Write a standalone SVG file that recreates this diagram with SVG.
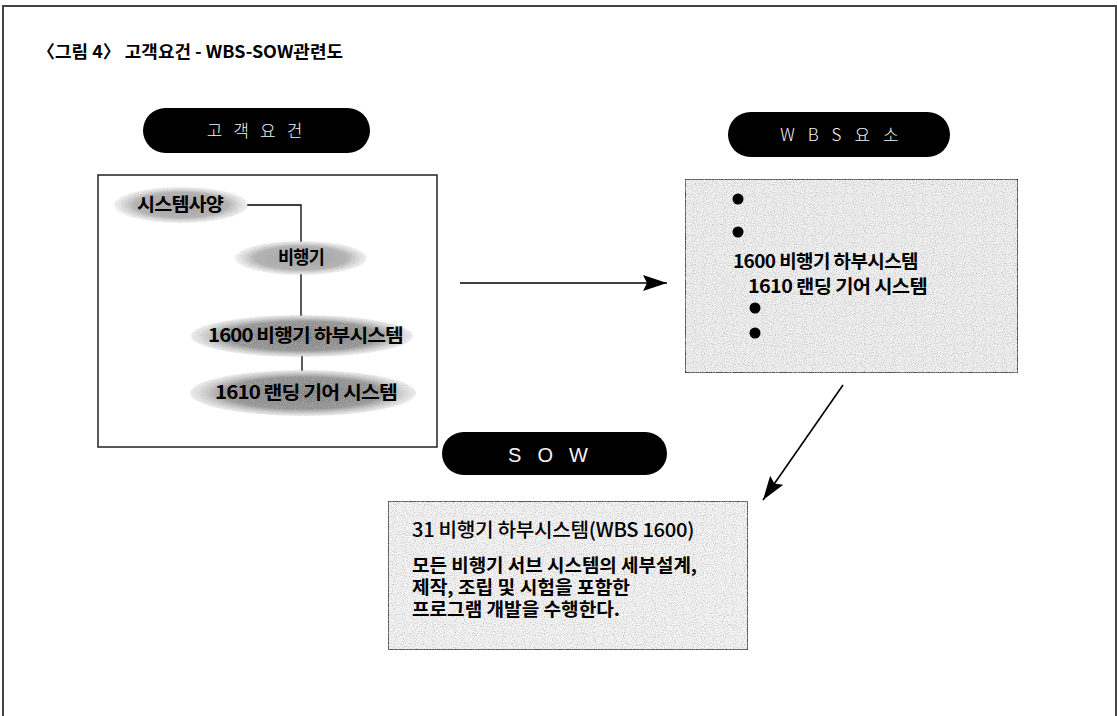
<svg xmlns="http://www.w3.org/2000/svg" width="1117" height="716" viewBox="0 0 1117 716">
<style>
.frame{fill:none;stroke:#444;stroke-width:2}
.pill{fill:#000}
.pilltxt{font-family:"Noto Sans CJK KR",sans-serif;font-size:17px;font-weight:300;fill:#f4f4f4;text-anchor:middle}
.pilltxt2{font-family:"Liberation Sans","Noto Sans CJK KR",sans-serif;font-size:20px;fill:#f4f4f4;text-anchor:middle}
.box{stroke:#222;stroke-width:1.5}
.etxt{font-family:"Noto Sans CJK KR",sans-serif;font-size:18.5px;font-weight:bold;fill:#000;letter-spacing:-0.8px}
.btxt{font-family:"Noto Sans CJK KR",sans-serif;font-size:18.5px;font-weight:bold;fill:#000;letter-spacing:-0.6px}
.stxt{font-family:"Noto Sans CJK KR",sans-serif;font-size:18px;font-weight:bold;fill:#000}
.ntxt{font-family:"Noto Sans CJK KR",sans-serif;font-size:19.5px;font-weight:500;fill:#000;letter-spacing:-0.3px}
.title{font-family:"Noto Sans CJK KR",sans-serif;font-size:17.5px;font-weight:bold;fill:#000}
.conn{fill:none;stroke:#000;stroke-width:1.3}
.arr{fill:none;stroke:#000;stroke-width:1.6}
</style>
<defs>
<radialGradient id="gLight" cx="50%" cy="50%" r="50%">
<stop offset="0" stop-color="#a0a0a0"/>
<stop offset="0.7" stop-color="#b4b4b4"/>
<stop offset="1" stop-color="#d8d8d8" stop-opacity="0.3"/>
</radialGradient>
<radialGradient id="gDark" cx="50%" cy="50%" r="50%">
<stop offset="0" stop-color="#808080"/>
<stop offset="0.7" stop-color="#959595"/>
<stop offset="1" stop-color="#c8c8c8" stop-opacity="0.3"/>
</radialGradient>
<filter id="grain" x="0" y="0" width="100%" height="100%">
<feTurbulence type="fractalNoise" baseFrequency="0.9" numOctaves="1" seed="3" result="n"/>
<feColorMatrix in="n" type="matrix" values="0 0 0 0 0.45  0 0 0 0 0.45  0 0 0 0 0.45  0 0 0 -2.4 1.3" result="g"/>
<feComposite in="g" in2="SourceGraphic" operator="in" result="gi"/>
<feMerge><feMergeNode in="SourceGraphic"/><feMergeNode in="gi"/></feMerge>
</filter>
<marker id="ah" markerWidth="24" markerHeight="16" refX="24" refY="8" orient="auto" markerUnits="userSpaceOnUse">
<path d="M0,0 L24,8 L0,16 L4,8 Z" fill="#000"/>
</marker>
</defs>

<path class="frame" d="M3,716 V6 H1116 V716"/>

<text class="title" x="37" y="58" textLength="306" lengthAdjust="spacingAndGlyphs">〈그림 4〉 고객요건 - WBS-SOW관련도</text>

<g id="pill-customer">
<rect class="pill" x="143" y="108" width="227" height="45" rx="22.5"/>
<text class="pilltxt" x="260" y="137" letter-spacing="11">고객요건</text>
</g>

<g id="customer-box">
<rect class="box" x="98" y="175" width="339" height="272" fill="#fff"/>
</g>

<g id="connectors">
<path class="conn" d="M247,205 H301 V242"/>
<path class="conn" d="M301,274 V316"/>
<path class="conn" d="M302,356 V371"/>
<path class="arr" d="M460,283 H667" marker-end="url(#ah)"/>
<path class="arr" d="M843,385 L763,500" marker-end="url(#ah)"/>
</g>

<g id="node-spec">
<ellipse cx="181" cy="205" rx="67" ry="18" fill="url(#gLight)" filter="url(#grain)"/>
<text class="etxt" x="137" y="211" textLength="86" lengthAdjust="spacingAndGlyphs">시스템사양</text>
</g>
<g id="node-aircraft">
<ellipse cx="301" cy="258" rx="66" ry="17" fill="url(#gLight)" filter="url(#grain)"/>
<text class="etxt" x="278" y="264" textLength="46" lengthAdjust="spacingAndGlyphs">비행기</text>
</g>
<g id="node-1600">
<ellipse cx="302" cy="336" rx="111" ry="21" fill="url(#gDark)" filter="url(#grain)"/>
<text class="etxt" x="208" y="342" textLength="195" lengthAdjust="spacingAndGlyphs">1600 비행기 하부시스템</text>
</g>
<g id="node-1610">
<ellipse cx="303" cy="393" rx="113" ry="23" fill="url(#gDark)" filter="url(#grain)"/>
<text class="etxt" x="215" y="399" textLength="182" lengthAdjust="spacingAndGlyphs">1610 랜딩 기어 시스템</text>
</g>

<g id="pill-wbs">
<rect class="pill" x="728" y="112" width="222" height="45" rx="22.5"/>
<text class="pilltxt" x="846" y="141" letter-spacing="13">WBS요소</text>
</g>

<g id="wbs-box">
<rect class="box" x="685" y="179" width="333" height="194" fill="#f0f0f0" filter="url(#grain)"/>
<circle cx="738" cy="199" r="5.5" fill="#000"/>
<circle cx="738" cy="232" r="5.5" fill="#000"/>
<text class="btxt" x="733" y="268" textLength="185" lengthAdjust="spacingAndGlyphs">1600 비행기 하부시스템</text>
<text class="btxt" x="748" y="293" textLength="179" lengthAdjust="spacingAndGlyphs">1610 랜딩 기어 시스템</text>
<circle cx="755" cy="308" r="5.5" fill="#000"/>
<circle cx="755" cy="333" r="5.5" fill="#000"/>
</g>

<g id="pill-sow">
<rect class="pill" x="442" y="432" width="225" height="43" rx="21.5"/>
<text class="pilltxt2" x="556" y="462" letter-spacing="16">SOW</text>
</g>

<g id="sow-box">
<rect class="box" x="388" y="501" width="360" height="149" fill="#f4f4f4" filter="url(#grain)"/>
<text class="ntxt" x="412" y="537" textLength="282" lengthAdjust="spacingAndGlyphs">31 비행기 하부시스템(WBS 1600)</text>
<text class="stxt" x="412" y="572" textLength="285" lengthAdjust="spacingAndGlyphs">모든 비행기 서브 시스템의 세부설계,</text>
<text class="stxt" x="412" y="594" textLength="218" lengthAdjust="spacingAndGlyphs">제작, 조립 및 시험을 포함한</text>
<text class="stxt" x="412" y="616" textLength="208" lengthAdjust="spacingAndGlyphs">프로그램 개발을 수행한다.</text>
</g>
</svg>
